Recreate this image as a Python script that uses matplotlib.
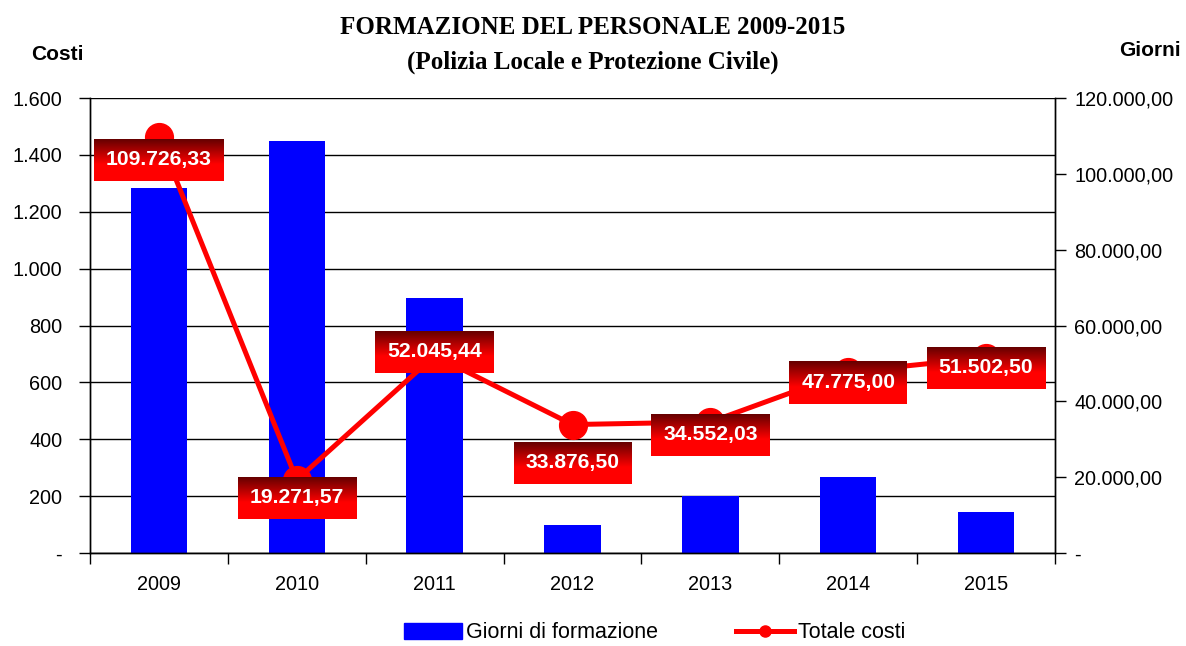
import matplotlib
matplotlib.use("Agg")
import matplotlib.pyplot as plt
import numpy as np
from matplotlib.patches import Rectangle
from matplotlib.lines import Line2D
from matplotlib.ticker import FuncFormatter, FixedLocator

# Data
years = ["2009", "2010", "2011", "2012", "2013", "2014", "2015"]
giorni = [1283, 1449, 897, 100, 200, 267, 144]
costi = [109726.33, 19271.57, 52045.44, 33876.50, 34552.03, 47775.00, 51502.50]
cost_labels = ["109.726,33", "19.271,57", "52.045,44", "33.876,50",
               "34.552,03", "47.775,00", "51.502,50"]
# vertical offset of each value box below its marker (pixels)
label_dy = [-23, -18, 4, -38, -13, -11, -10]

plt.rcParams["font.family"] = ["Liberation Sans", "DejaVu Sans"]

W, H = 1186, 646
fig = plt.figure(figsize=(W / 100, H / 100), dpi=100)
ax = fig.add_axes([90 / W, 1 - 553 / H, 965 / W, 455 / H])
ax2 = ax.twinx()

TICK_FS = 14.3

x = np.arange(len(years))
ax.bar(x, giorni, width=0.41, color="#0000ff", zorder=2)
ax.set_xlim(-0.5, len(years) - 0.5)
ax.set_ylim(0, 1600)
ax.set_yticks(np.arange(0, 1601, 200))
ax.yaxis.set_major_formatter(FuncFormatter(
    lambda v, p: "-" if v == 0 else f"{int(v):,}".replace(",", ".")))
ax.grid(axis="y", color="black", lw=1, zorder=0)
ax.set_axisbelow(True)

ax.set_xticks(x)
ax.set_xticklabels(years)
ax.tick_params(axis="x", which="major", length=0, pad=15.5, labelsize=TICK_FS)
ax.xaxis.set_minor_locator(FixedLocator(np.arange(-0.5, len(years), 1.0)))
ax.tick_params(axis="x", which="minor", length=8, width=1, direction="out")
ax.tick_params(axis="y", length=8, width=1, direction="out",
               labelsize=TICK_FS, pad=12)

ax2.set_ylim(0, 120000)
ax2.set_yticks(np.arange(0, 120001, 20000))
ax2.yaxis.set_major_formatter(FuncFormatter(
    lambda v, p: "-" if v == 0 else f"{int(v):,}".replace(",", ".") + ",00"))
ax2.tick_params(axis="y", length=8, width=1, direction="out",
                labelsize=TICK_FS, pad=6)

for a in (ax, ax2):
    a.spines["top"].set_visible(False)
    for s in ("left", "right", "bottom"):
        a.spines[s].set_color("black")
        a.spines[s].set_linewidth(1)

ax2.plot(x, costi, color="#ff0000", lw=3.6, marker="o", markersize=20,
         markerfacecolor="#ff0000", markeredgecolor="#ff0000", zorder=3)

# gradient value boxes
fig.canvas.draw()
renderer = fig.canvas.get_renderer()
grad = np.linspace(0, 1, 64)
top = np.array([0.40, 0.0, 0.0])
bot = np.array([1.0, 0.0, 0.0])
t = np.clip(grad / 0.6, 0, 1)
cols = top[None, :] * (1 - t[:, None]) + bot[None, :] * t[:, None]
img = np.repeat(cols[:, None, :], 2, axis=1)

inv = ax2.transData.inverted()
for xi, yi, lab, dy in zip(x, costi, cost_labels, label_dy):
    px, py = ax2.transData.transform((xi, yi))
    cy = py + dy
    txt = ax2.text(*inv.transform((px, cy)), lab, ha="center", va="center",
                   color="white", fontsize=15.2, fontweight="bold", zorder=6)
    bb = txt.get_window_extent(renderer)
    x0, x1 = bb.x0 - 12, bb.x1 + 12
    y0, y1 = cy - 21, cy + 21
    (dx0, dy0) = inv.transform((x0, y0))
    (dx1, dy1) = inv.transform((x1, y1))
    ax2.imshow(img, extent=[dx0, dx1, dy0, dy1], aspect="auto",
               origin="upper", zorder=5, interpolation="bilinear")
ax2.set_xlim(-0.5, len(years) - 0.5)
ax2.set_ylim(0, 120000)

# titles and axis captions
fig.text(0.5, 1 - 27 / H, "FORMAZIONE DEL PERSONALE 2009-2015",
         ha="center", va="center", fontsize=18, fontweight="bold",
         family=["Liberation Serif"])
fig.text(0.5, 1 - 62 / H, "(Polizia Locale e Protezione Civile)",
         ha="center", va="center", fontsize=18, fontweight="bold",
         family=["Liberation Serif"])
fig.text(57 / W, 1 - 55 / H, "Costi", ha="center", va="center",
         fontsize=15, fontweight="bold")
fig.text(1150 / W, 1 - 50 / H, "Giorni", ha="center", va="center",
         fontsize=15, fontweight="bold")

handles = [Rectangle((0, 0), 1, 1, color="#0000ff"),
           Line2D([], [], color="#ff0000", lw=3.6, marker="o", markersize=8)]
fig.legend(handles, ["Giorni di formazione", "Totale costi"],
           loc="center", bbox_to_anchor=(654.5 / W, 1 - 633 / H), ncol=2,
           frameon=False, fontsize=15.5, handlelength=2.7, handletextpad=0.2,
           columnspacing=3.6)

fig.savefig("out.png", dpi=100)
